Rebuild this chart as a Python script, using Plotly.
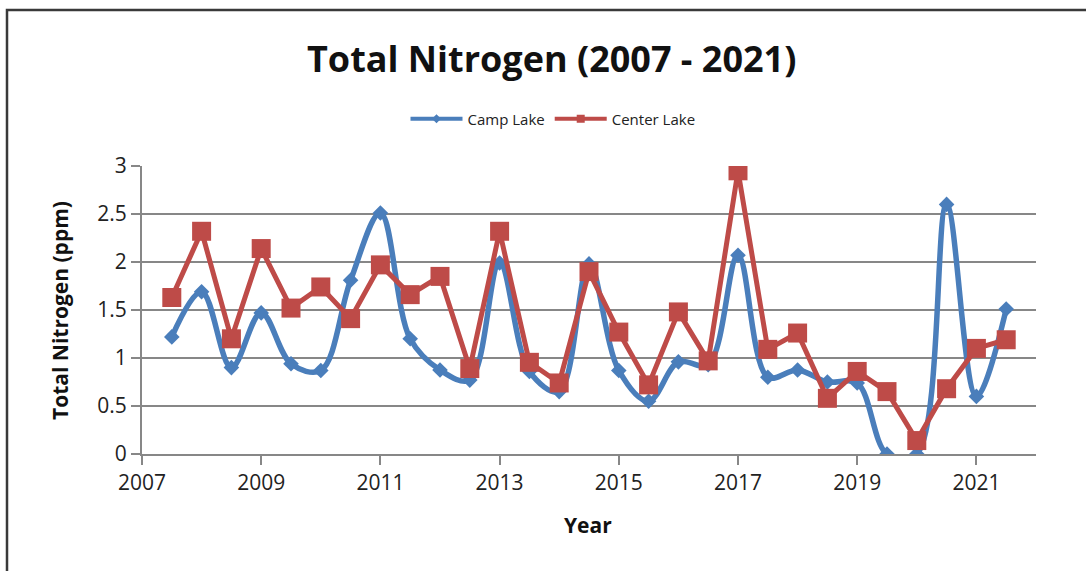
import plotly.graph_objects as go

years = [2007.5, 2008, 2008.5, 2009, 2009.5, 2010, 2010.5, 2011, 2011.5, 2012, 2012.5,
         2013, 2013.5, 2014, 2014.5, 2015, 2015.5, 2016, 2016.5, 2017, 2017.5, 2018,
         2018.5, 2019, 2019.5, 2020, 2020.5, 2021, 2021.5]
camp_lake = [1.22, 1.69, 0.90, 1.47, 0.94, 0.87, 1.81, 2.51, 1.20, 0.875, 0.77,
             1.99, 0.86, 0.65, 1.98, 0.87, 0.55, 0.96, 0.93, 2.07, 0.80, 0.875,
             0.75, 0.74, 0.0, 0.0, 2.60, 0.60, 1.51]
center_lake = [1.63, 2.32, 1.20, 2.14, 1.52, 1.74, 1.41, 1.97, 1.66, 1.85, 0.89,
               2.32, 0.955, 0.74, 1.90, 1.27, 0.72, 1.48, 0.97, 2.95, 1.09, 1.26,
               0.58, 0.86, 0.65, 0.14, 0.68, 1.10, 1.19]
x_ticks = [2007, 2009, 2011, 2013, 2015, 2017, 2019, 2021]

BLUE = "#4A7EBB"
RED = "#BE4B48"
GRID = "#878787"
FONT = "Open Sans"

fig = go.Figure()
fig.add_trace(go.Scatter(
    x=years, y=camp_lake, mode="lines+markers", name="Camp Lake", showlegend=False,
    line=dict(color=BLUE, width=5.5, shape="spline", smoothing=1.0),
    marker=dict(symbol="diamond", size=12, color=BLUE)))
fig.add_trace(go.Scatter(
    x=years, y=center_lake, mode="lines+markers", name="Center Lake", showlegend=False,
    line=dict(color=RED, width=5),
    marker=dict(symbol="square", size=19, color=RED)))
# legend entries
fig.add_trace(go.Scatter(
    x=[None], y=[None], mode="lines+markers", name="Camp Lake",
    line=dict(color=BLUE, width=4), marker=dict(symbol="diamond", size=7, color=BLUE)))
fig.add_trace(go.Scatter(
    x=[None], y=[None], mode="lines+markers", name="Center Lake",
    line=dict(color=RED, width=4), marker=dict(symbol="square", size=8, color=RED)))

L, R, T, B = 142, 1036, 166, 454
W, H = 1086, 571
pw, ph = R - L, B - T

def px(x):
    return (x - L) / pw

def py(y):
    return (B - y) / ph

fig.update_layout(
    width=W, height=H,
    margin=dict(l=L, r=W - R, t=T, b=H - B, pad=0),
    paper_bgcolor="white", plot_bgcolor="white",
    font=dict(family=FONT, color="#222222"),
    showlegend=True,
    legend=dict(orientation="h", x=px(553), xanchor="center", y=py(119), yanchor="middle",
                font=dict(size=15, family=FONT, color="#222222"), itemwidth=52,
                bgcolor="rgba(0,0,0,0)"),
    xaxis=dict(range=[2007, 2022], tickvals=x_ticks, showgrid=False,
               showline=True, linecolor=GRID, linewidth=2,
               ticks="outside", ticklen=9, tickwidth=2, tickcolor=GRID,
               tickfont=dict(size=21, family=FONT, color="#222222"), zeroline=False),
    yaxis=dict(range=[0, 3], dtick=0.5, showgrid=True, gridcolor=GRID, gridwidth=2,
               showline=True, linecolor=GRID, linewidth=2,
               ticks="outside", ticklen=9, tickwidth=2, tickcolor=GRID,
               tickfont=dict(size=21, family=FONT, color="#222222"), zeroline=False),
    annotations=[
        dict(text="<b>Total Nitrogen (2007 - 2021)</b>", x=px(551), y=py(58),
             xref="paper", yref="paper", showarrow=False,
             font=dict(size=36, family=FONT, color="#111111"), xanchor="center", yanchor="middle"),
        dict(text="<b>Total Nitrogen (ppm)</b>", x=px(60), y=py(311), textangle=-90,
             xref="paper", yref="paper", showarrow=False,
             font=dict(size=21, family=FONT, color="#111111"), xanchor="center", yanchor="middle"),
        dict(text="<b>Year</b>", x=px(588), y=py(525),
             xref="paper", yref="paper", showarrow=False,
             font=dict(size=21, family=FONT, color="#111111"), xanchor="center", yanchor="middle"),
    ],
    shapes=[dict(type="rect", xref="paper", yref="paper",
                 x0=px(7), x1=px(1200), y0=py(700), y1=py(10),
                 line=dict(color="#3a3a3a", width=2.5), fillcolor="rgba(0,0,0,0)", layer="below")],
)

fig.write_html("out.html", config={"displayModeBar": False},
               post_script="document.body.style.margin='0px';document.body.style.overflow='hidden';")
